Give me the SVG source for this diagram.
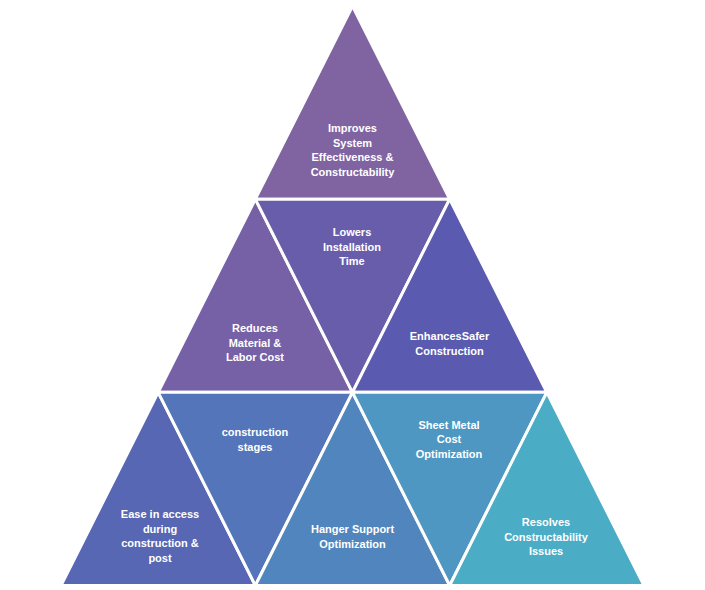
<svg xmlns="http://www.w3.org/2000/svg" width="705" height="590" viewBox="0 0 705 590">
<style>
.t{stroke:#fff;stroke-width:3;stroke-linejoin:miter}
text{font-family:"Liberation Sans",Arial,sans-serif;font-weight:bold;font-size:11px;fill:#fff;text-anchor:middle}
</style>
<rect width="705" height="590" fill="#fff"/>
<g id="n1"><polygon class="t" fill="#8064A2" points="352.5,6 255.33,199.17 449.67,199.17"/>
<text x="352.5" y="132">Improves</text><text x="352.5" y="147">System</text><text x="352.5" y="161">Effectiveness &amp;</text><text x="352.5" y="176">Constructability</text></g>
<g id="n2"><polygon class="t" fill="#7661A7" points="255.33,199.17 158.17,392.33 352.5,392.33"/>
<text x="255" y="332">Reduces</text><text x="255" y="346.5">Material &amp;</text><text x="255" y="361">Labor Cost</text></g>
<g id="n3"><polygon class="t" fill="#685DAB" points="255.33,199.17 449.67,199.17 352.5,392.33"/>
<text x="352" y="236">Lowers</text><text x="352" y="250.5">Installation</text><text x="352" y="265">Time</text></g>
<g id="n4"><polygon class="t" fill="#5A5BB0" points="449.67,199.17 352.5,392.33 546.83,392.33"/>
<text x="449.5" y="340">EnhancesSafer</text><text x="449.5" y="355">Construction</text></g>
<g id="n5"><polygon class="t" fill="#5767B4" points="158.17,392.33 61,585.5 255.33,585.5"/>
<text x="160" y="518">Ease in access</text><text x="160" y="533">during</text><text x="160" y="547">construction &amp;</text><text x="160" y="562">post</text></g>
<g id="n6"><polygon class="t" fill="#5475B9" points="158.17,392.33 352.5,392.33 255.33,585.5"/>
<text x="255" y="436">construction</text><text x="255" y="451">stages</text></g>
<g id="n7"><polygon class="t" fill="#5185BD" points="352.5,392.33 255.33,585.5 449.67,585.5"/>
<text x="352.5" y="533">Hanger Support</text><text x="352.5" y="548">Optimization</text></g>
<g id="n8"><polygon class="t" fill="#4E97C2" points="352.5,392.33 546.83,392.33 449.67,585.5"/>
<text x="449" y="429">Sheet Metal</text><text x="449" y="443">Cost</text><text x="449" y="458">Optimization</text></g>
<g id="n9"><polygon class="t" fill="#4BACC6" points="546.83,392.33 449.67,585.5 644,585.5"/>
<text x="546" y="526">Resolves</text><text x="546" y="541">Constructability</text><text x="546" y="555">Issues</text></g>
</svg>
